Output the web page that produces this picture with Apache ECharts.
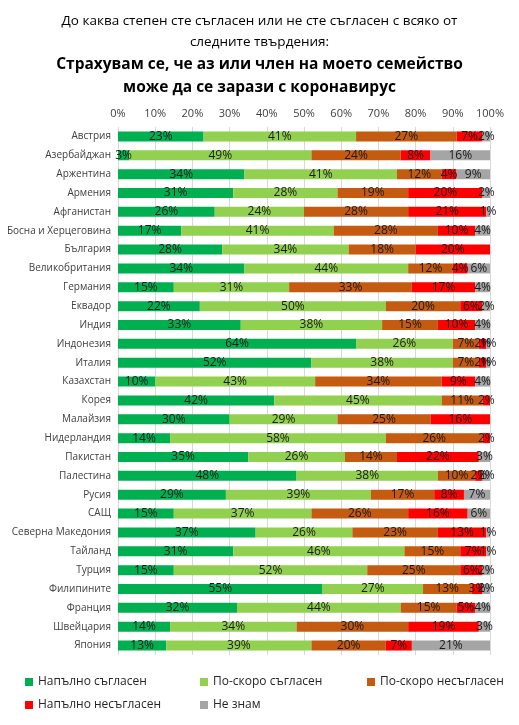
<!DOCTYPE html>
<html>
<head>
<meta charset="utf-8">
<script src="https://cdn.jsdelivr.net/npm/echarts@6/dist/echarts.min.js"></script>
<style>
  html, body { margin: 0; padding: 0; background: #fff; }
  #chart { width: 519px; height: 725px; }
</style>
</head>
<body>
<div id="chart"></div>
<script>
// държави (отгоре надолу)
var countries = ['Австрия', 'Азербайджан', 'Аржентина', 'Армения', 'Афганистан',
  'Босна и Херцеговина', 'България', 'Великобритания', 'Германия', 'Еквадор',
  'Индия', 'Индонезия', 'Италия', 'Казахстан', 'Корея', 'Малайзия', 'Нидерландия',
  'Пакистан', 'Палестина', 'Русия', 'САЩ', 'Северна Македония', 'Тайланд',
  'Турция', 'Филипините', 'Франция', 'Швейцария', 'Япония'];

var seriesNames = ['Напълно съгласен', 'По-скоро съгласен', 'По-скоро несъгласен',
  'Напълно несъгласен', 'Не знам'];

var fullyAgree    = [23, 3, 34, 31, 26, 17, 28, 34, 15, 22, 33, 64, 52, 10, 42, 30, 14, 35, 48, 29, 15, 37, 31, 15, 55, 32, 14, 13];
var ratherAgree   = [41, 49, 41, 28, 24, 41, 34, 44, 31, 50, 38, 26, 38, 43, 45, 29, 58, 26, 38, 39, 37, 26, 46, 52, 27, 44, 34, 39];
var ratherDisagr  = [27, 24, 12, 19, 28, 28, 18, 12, 33, 20, 15, 7, 7, 34, 11, 25, 26, 14, 10, 17, 26, 23, 15, 25, 13, 15, 30, 20];
var fullyDisagr   = [7, 8, 4, 20, 21, 10, 20, 4, 17, 6, 10, 2, 2, 9, 2, 16, 2, 22, 2, 8, 16, 13, 7, 6, 3, 5, 19, 7];
var dontKnow      = [2, 16, 9, 2, 1, 4, 0, 6, 4, 2, 4, 1, 1, 4, 0, 0, 0, 3, 2, 7, 6, 1, 1, 2, 2, 4, 3, 21];

var colors = ['#00B050', '#92D050', '#C55A11', '#FF0000', '#A5A5A5'];
var allValues = [fullyAgree, ratherAgree, ratherDisagr, fullyDisagr, dontKnow];

var myChart = echarts.init(document.getElementById('chart'));

var series = seriesNames.map(function (name, i) {
  return {
    name: name,
    type: 'bar',
    stack: 'total',
    barWidth: 10,
    itemStyle: { color: colors[i] },
    label: {
      show: true,
      position: 'inside',
      color: '#1a1a1a',
      fontSize: 12,
      fontFamily: 'Open Sans',
      formatter: function (p) { return p.value ? p.value + '%' : ''; }
    },
    data: allValues[i]
  };
});

// легенда - по едно поле за всеки ред, за да се подредят като в оригинала
var legendPos = [[20, 671], [195, 671], [362, 671], [20, 694], [195, 694]];
var legends = seriesNames.map(function (name, i) {
  return {
    data: [name],
    left: legendPos[i][0],
    top: legendPos[i][1],
    icon: 'rect',
    itemWidth: 8,
    itemHeight: 8,
    itemGap: 6,
    textStyle: { fontSize: 12, color: '#262626', fontFamily: 'Open Sans' }
  };
});

var option = {
  backgroundColor: '#fff',
  animation: false,
  title: [
    {
      text: 'До каква степен сте съгласен или не сте съгласен с всяко от\nследните твърдения:',
      left: 'center',
      top: 6,
      textStyle: { fontSize: 13.5, fontWeight: 'normal', color: '#000', fontFamily: 'Open Sans', lineHeight: 21, align: 'center' }
    },
    {
      text: 'Страхувам се, че аз или член на моето семейство\nможе да се зарази с коронавирус',
      left: 'center',
      top: 48,
      textStyle: { fontSize: 15.5, fontWeight: 'bold', color: '#000', fontFamily: 'Open Sans', lineHeight: 23, align: 'center' }
    }
  ],
  legend: legends,
  grid: { left: 118, right: 29, top: 127, bottom: 70, containLabel: false, outerBoundsMode: 'none' },
  xAxis: {
    type: 'value',
    position: 'top',
    min: 0,
    max: 100,
    interval: 10,
    axisLine: { show: false },
    axisTick: { show: false },
    axisLabel: { formatter: '{value}%', fontSize: 11, color: '#404040', fontFamily: 'Open Sans', margin: 8 },
    splitLine: { lineStyle: { color: '#d9d9d9' } }
  },
  yAxis: {
    type: 'category',
    inverse: true,
    data: countries,
    axisLine: { show: false },
    axisTick: { show: false },
    axisLabel: { fontSize: 10, color: '#404040', fontFamily: 'Open Sans', margin: 7 }
  },
  series: series
};

myChart.setOption(option);
</script>
</body>
</html>
